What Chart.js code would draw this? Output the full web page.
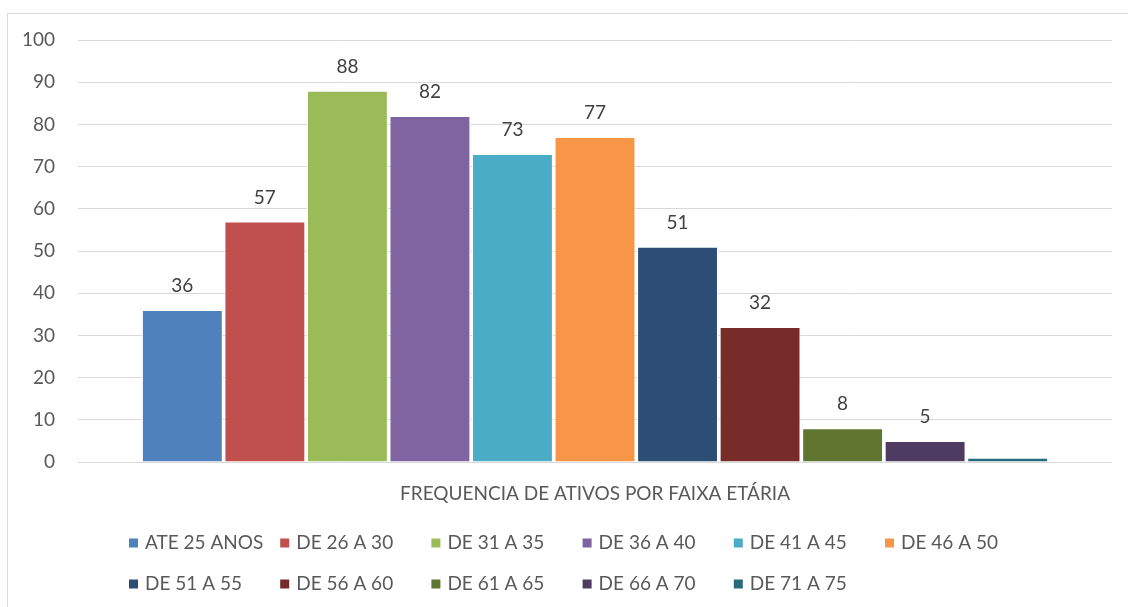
<!DOCTYPE html>
<html>
<head>
<meta charset="utf-8">
<script src="https://cdn.jsdelivr.net/npm/chart.js@4.4.1/dist/chart.umd.min.js"></script>
<style>
  html, body { margin: 0; padding: 0; background: #fff; overflow: hidden; }
  #frame { position: absolute; left: 7px; top: 13px; width: 2000px; height: 2000px;
           border-top: 1px solid #d9d9d9; border-left: 1px solid #d9d9d9; }
  #chart { position: absolute; left: 0; top: 0; }
</style>
</head>
<body>
<div id="frame"></div>
<canvas id="chart" width="1128" height="607"></canvas>
<script>
// --- DADOS ---
const category = ['FREQUENCIA DE ATIVOS POR FAIXA ETÁRIA'];
const faixas = ['ATE 25 ANOS', 'DE 26 A 30', 'DE 31 A 35', 'DE 36 A 40', 'DE 41 A 45', 'DE 46 A 50',
                'DE 51 A 55', 'DE 56 A 60', 'DE 61 A 65', 'DE 66 A 70', 'DE 71 A 75'];
const valores = [36, 57, 88, 82, 73, 77, 51, 32, 8, 5, 1];
const mostrarRotulo = [true, true, true, true, true, true, true, true, true, true, false];
const cores = ['#4f81bd', '#c0504d', '#9bbb59', '#8064a2', '#4bacc6', '#f79646',
               '#2c4d75', '#772c2a', '#5f7530', '#4d3b62', '#276a7c'];
const yTicks = [0, 10, 20, 30, 40, 50, 60, 70, 80, 90, 100];

const FONT = 'Lato, Calibri, Carlito, sans-serif';
const TAM = 19;

// rótulos de dados acima das barras
const rotulosPlugin = {
    id: 'rotulos',
    afterDatasetsDraw(chart) {
        const ctx = chart.ctx;
        ctx.save();
        ctx.font = TAM + 'px ' + FONT;
        ctx.fillStyle = '#404040';
        ctx.textAlign = 'center';
        ctx.textBaseline = 'middle';
        chart.data.datasets.forEach((ds, i) => {
            if (!mostrarRotulo[i]) return;
            const bar = chart.getDatasetMeta(i).data[0];
            ctx.fillText(String(ds.data[0]), bar.x, bar.y - 24);
        });
        ctx.restore();
    }
};

// legenda em grade (colunas fixas, como no Excel)
const legendaPlugin = {
    id: 'legendaGrade',
    afterDraw(chart) {
        const ctx = chart.ctx;
        const x0 = 129, passo = 151.2, por_linha = 6;
        const linhas = [543, 584];
        ctx.save();
        ctx.font = TAM + 'px ' + FONT;
        ctx.textBaseline = 'middle';
        ctx.textAlign = 'left';
        chart.data.datasets.forEach((ds, i) => {
            const col = i % por_linha;
            const y = linhas[Math.floor(i / por_linha)];
            const x = x0 + col * passo;
            ctx.fillStyle = ds.backgroundColor;
            ctx.fillRect(x, y - 4.5, 9, 9);
            ctx.fillStyle = '#595959';
            ctx.fillText(ds.label, x + 16, y);
        });
        ctx.restore();
    }
};

new Chart(document.getElementById('chart'), {
    type: 'bar',
    data: {
        labels: category,
        datasets: faixas.map((f, i) => ({
            label: f,
            data: [valores[i]],
            backgroundColor: cores[i],
            borderColor: '#ffffff',
            borderWidth: 1,
            categoryPercentage: 0.878,
            barPercentage: 0.98
        }))
    },
    options: {
        responsive: false,
        animation: false,
        layout: { padding: { left: 0, right: 16, top: 40, bottom: 100 } },
        plugins: {
            legend: { display: false },
            tooltip: { enabled: false }
        },
        scales: {
            x: {
                grid: { display: false, drawTicks: false },
                border: { display: false },
                ticks: { color: '#595959', font: { family: FONT, size: TAM }, padding: 20 },
                afterFit(scale) { scale.height = 45; }
            },
            y: {
                min: 0,
                max: 100,
                afterBuildTicks(scale) { scale.ticks = yTicks.map(v => ({ value: v })); },
                grid: { color: '#d9d9d9', lineWidth: 1, drawTicks: false },
                border: { display: false },
                ticks: { color: '#595959', font: { family: FONT, size: TAM }, padding: 23 },
                afterFit(scale) { scale.width = 78; }
            }
        }
    },
    plugins: [rotulosPlugin, legendaPlugin]
});
</script>
</body>
</html>
